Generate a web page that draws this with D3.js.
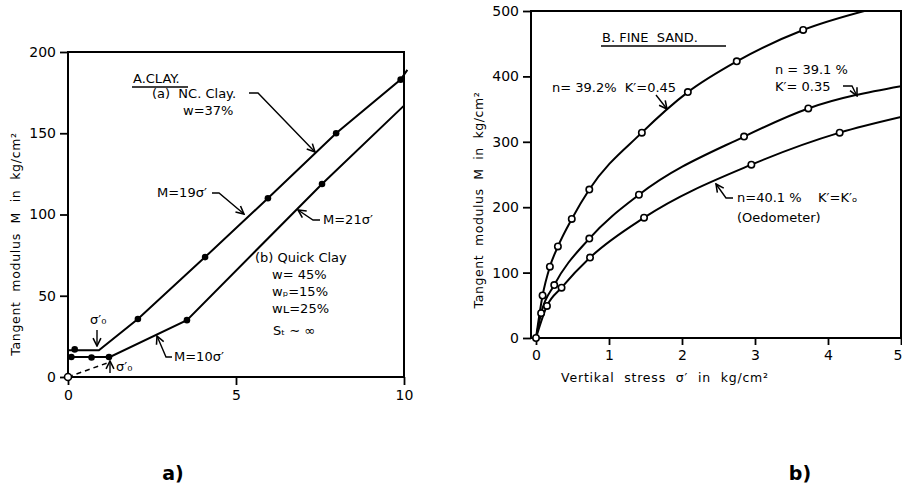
<!DOCTYPE html>
<html>
<head>
<meta charset="utf-8">
<script src="https://cdn.jsdelivr.net/npm/d3@7"></script>
<style>
  body { margin: 0; background: #fff; }
  text { font-family: 'DejaVu Sans', sans-serif; fill: #000; white-space: pre; }
</style>
</head>
<body>
<svg id="chart" width="902" height="488"></svg>
<script>
// ---- panel a) clay : [stress, modulus] ----
const ncClayLine = [[0, 16.5], [0.92, 16.5], [2.08, 35.7], [4.08, 73.8], [5.95, 110], [7.98, 150], [9.9, 183], [10.1, 189]]
const ncClayPoints = [[0.2, 17], [2.08, 35.7], [4.08, 73.8], [5.95, 110], [7.98, 150], [9.9, 183]]
const quickClayLine = [[0, 12.3], [1.25, 12.3], [3.54, 35], [7.56, 118.8], [10, 167]]
const quickClayPoints = [[0.1, 12.3], [0.7, 12], [1.22, 12.3], [3.54, 35], [7.56, 118.8]]
const clayDashed = [[0, 0], [1.15, 8.5]]
const clayTicksX = [0, 5, 10]
const clayTicksY = [0, 50, 100, 150, 200]

// ---- panel b) fine sand ----
const sandK45 = [[0.09, 65], [0.19, 109], [0.3, 140], [0.49, 182], [0.73, 227], [1.45, 314], [2.08, 376], [2.75, 423], [3.66, 471]]
const sandK35 = [[0.07, 38], [0.25, 81], [0.73, 152], [1.41, 219], [2.85, 308], [3.73, 351]]
const sandOed = [[0.15, 49], [0.35, 77], [0.74, 123], [1.48, 184], [2.95, 265], [4.16, 314]]
const sandEnds = [[4.6, 503], [5, 385], [5, 338]]
const sandTicksX = [0, 1, 2, 3, 4, 5]
const sandTicksY = [0, 100, 200, 300, 400, 500]

const svg = d3.select('#chart')
svg.append('rect').attr('width', 902).attr('height', 488).attr('fill', '#fff')

// arrowhead for leader lines
svg.append('defs')
  .append('marker')
  .attr('id', 'arr')
  .attr('viewBox', '0 0 10 10')
  .attr('refX', 9)
  .attr('refY', 5)
  .attr('markerWidth', 7)
  .attr('markerHeight', 7)
  .attr('orient', 'auto')
  .append('path')
  .attr('d', 'M1,1 L9,5 L1,9')
  .attr('fill', 'none')
  .attr('stroke', '#000')
  .attr('stroke-width', 1.6)

const styleAxis = (g) => {
  g.select('.domain').remove()
  g.selectAll('line').attr('stroke', '#000').attr('stroke-width', 1.8)
  g.selectAll('text').attr('font-size', 14).attr('font-family', "'DejaVu Sans', sans-serif")
}

const leader = (g, pts) =>
  g.append('path')
    .attr('d', d3.line()(pts))
    .attr('fill', 'none')
    .attr('stroke', '#000')
    .attr('stroke-width', 1.4)
    .attr('marker-end', 'url(#arr)')

const label = (g, x, y, txt, size = 13, anchor = 'start') =>
  g.append('text').attr('x', x).attr('y', y).attr('font-size', size).attr('text-anchor', anchor).text(txt)

// ================= panel a =================
const xL = d3.scaleLinear().domain([0, 10]).range([68, 404])
const yL = d3.scaleLinear().domain([0, 200]).range([377, 52])
const gA = svg.append('g')

gA.append('g')
  .attr('transform', `translate(0, ${yL(0)})`)
  .call(d3.axisBottom(xL).tickValues(clayTicksX).tickFormat(d3.format('d')).tickSize(8).tickPadding(5))
  .call(styleAxis)
gA.append('g')
  .attr('transform', `translate(${xL(0)}, 0)`)
  .call(d3.axisLeft(yL).tickValues(clayTicksY).tickFormat(d3.format('d')).tickSize(8).tickPadding(4))
  .call(styleAxis)

gA.append('rect')
  .attr('x', xL(0)).attr('y', yL(200))
  .attr('width', xL(10) - xL(0)).attr('height', yL(0) - yL(200))
  .attr('fill', 'none').attr('stroke', '#000').attr('stroke-width', 2)

const lineL = d3.line().x((d) => xL(d[0])).y((d) => yL(d[1]))
;[ncClayLine, quickClayLine].forEach((s) => {
  gA.append('path').attr('d', lineL(s)).attr('fill', 'none').attr('stroke', '#000').attr('stroke-width', 2)
})
gA.append('path').attr('d', lineL(clayDashed)).attr('fill', 'none')
  .attr('stroke', '#000').attr('stroke-width', 1.5).attr('stroke-dasharray', '5 4')

gA.selectAll('circle.pt')
  .data(ncClayPoints.concat(quickClayPoints))
  .enter()
  .append('circle')
  .attr('cx', (d) => xL(d[0]))
  .attr('cy', (d) => yL(d[1]))
  .attr('r', 3.3)
  .attr('fill', '#000')
gA.append('circle').attr('cx', xL(0)).attr('cy', yL(0)).attr('r', 3.5)
  .attr('fill', '#fff').attr('stroke', '#000').attr('stroke-width', 1.6)

// axis title
gA.append('text')
  .attr('transform', `translate(20, 244) rotate(-90)`)
  .attr('text-anchor', 'middle')
  .attr('font-size', 12.5)
  .attr('letter-spacing', 0.7)
  .attr('word-spacing', 5)
  .text('Tangent modulus M in kg/cm²')

// annotations
label(gA, 133, 83, 'A.CLAY.', 13)
gA.append('line').attr('x1', 132).attr('x2', 188).attr('y1', 87).attr('y2', 87).attr('stroke', '#000').attr('stroke-width', 1.5)
label(gA, 152, 98, '(a)  NC. Clay.')
label(gA, 183, 115, 'w=37%')
leader(gA, [[249, 93], [258, 93], [315, 152]])

label(gA, 157, 197, 'M=19σ′')
leader(gA, [[212, 193], [219, 193], [244, 214]])
label(gA, 323, 224, 'M=21σ′')
leader(gA, [[320, 220], [313, 220], [298, 210]])

label(gA, 255, 262, '(b) Quick Clay')
label(gA, 272, 279, 'w= 45%')
label(gA, 272, 296, 'wₚ=15%')
label(gA, 272, 313, 'wʟ=25%')
label(gA, 273, 335, 'Sₜ ∼ ∞')

label(gA, 174, 361, 'M=10σ′')
leader(gA, [[172, 357], [166, 357], [157, 336]])

label(gA, 90, 324, 'σ′₀')
leader(gA, [[97, 330], [97, 346]])
label(gA, 116, 371, 'σ′₀')
leader(gA, [[110, 373], [110, 361]])

// ================= panel b =================
const xR = d3.scaleLinear().domain([0, 5]).range([536, 901])
const yR = d3.scaleLinear().domain([0, 500]).range([338, 11])
const gB = svg.append('g')
const axX = 531

const xAxisB = gB.append('g')
  .attr('transform', `translate(0, ${yR(0)})`)
  .call(d3.axisBottom(xR).tickValues(sandTicksX).tickFormat(d3.format('d')).tickSize(7).tickPadding(5))
  .call(styleAxis)
// last label sits on the page edge: keep it inside
xAxisB.selectAll('text').filter((d) => d === 5).attr('text-anchor', 'end').attr('x', 1)
gB.append('g')
  .attr('transform', `translate(${axX}, 0)`)
  .call(d3.axisLeft(yR).tickValues(sandTicksY).tickFormat(d3.format('d')).tickSize(8).tickPadding(4))
  .call(styleAxis)

gB.append('rect')
  .attr('x', axX).attr('y', yR(500))
  .attr('width', xR(5) - axX).attr('height', yR(0) - yR(500))
  .attr('fill', 'none').attr('stroke', '#000').attr('stroke-width', 2)

gB.append('clipPath').attr('id', 'clipB')
  .append('rect').attr('x', axX).attr('y', yR(500)).attr('width', xR(5) - axX).attr('height', yR(0) - yR(500))

const lineR = d3.line().x((d) => xR(d[0])).y((d) => yR(d[1])).curve(d3.curveMonotoneX)
const sandSeries = [sandK45, sandK35, sandOed]
sandSeries.forEach((s, i) => {
  gB.append('path')
    .attr('clip-path', 'url(#clipB)')
    .attr('d', lineR([[0, 0]].concat(s, [sandEnds[i]])))
    .attr('fill', 'none')
    .attr('stroke', '#000')
    .attr('stroke-width', 2)
})
gB.selectAll('circle.pt')
  .data([[0, 0]].concat(...sandSeries))
  .enter()
  .append('circle')
  .attr('cx', (d) => xR(d[0]))
  .attr('cy', (d) => yR(d[1]))
  .attr('r', 3.2)
  .attr('fill', '#fff')
  .attr('stroke', '#000')
  .attr('stroke-width', 1.6)

gB.append('text')
  .attr('transform', `translate(483, 200) rotate(-90)`)
  .attr('text-anchor', 'middle')
  .attr('font-size', 12.5)
  .attr('letter-spacing', 0.6)
  .attr('word-spacing', 4)
  .text('Tangent modulus M in kg/cm²')
gB.append('text')
  .attr('x', 665).attr('y', 382)
  .attr('text-anchor', 'middle')
  .attr('font-size', 12.5)
  .attr('letter-spacing', 0.8)
  .attr('word-spacing', 5)
  .text('Vertikal stress σ′ in kg/cm²')

label(gB, 602, 42, 'B. FINE  SAND.', 13)
gB.append('line').attr('x1', 601).attr('x2', 726).attr('y1', 46).attr('y2', 46).attr('stroke', '#000').attr('stroke-width', 1.5)

label(gB, 552, 92, 'n= 39.2%  K′=0.45')
leader(gB, [[656, 95], [667, 109]])
label(gB, 775, 74, 'n = 39.1 %')
label(gB, 775, 91, 'K′= 0.35')
leader(gB, [[843, 86], [852, 86], [857, 96]])
label(gB, 737, 202, 'n=40.1 %    K′=K′ₒ')
label(gB, 737, 222, '(Oedometer)')
leader(gB, [[733, 198], [726, 198], [716, 184]])

// sub-figure letters
svg.append('text').attr('x', 173).attr('y', 480).attr('text-anchor', 'middle')
  .attr('font-family', "'Liberation Serif', serif").attr('font-weight', 'bold').attr('font-size', 19).text('a)')
svg.append('text').attr('x', 800).attr('y', 480).attr('text-anchor', 'middle')
  .attr('font-family', "'Liberation Serif', serif").attr('font-weight', 'bold').attr('font-size', 19).text('b)')
</script>
</body>
</html>
